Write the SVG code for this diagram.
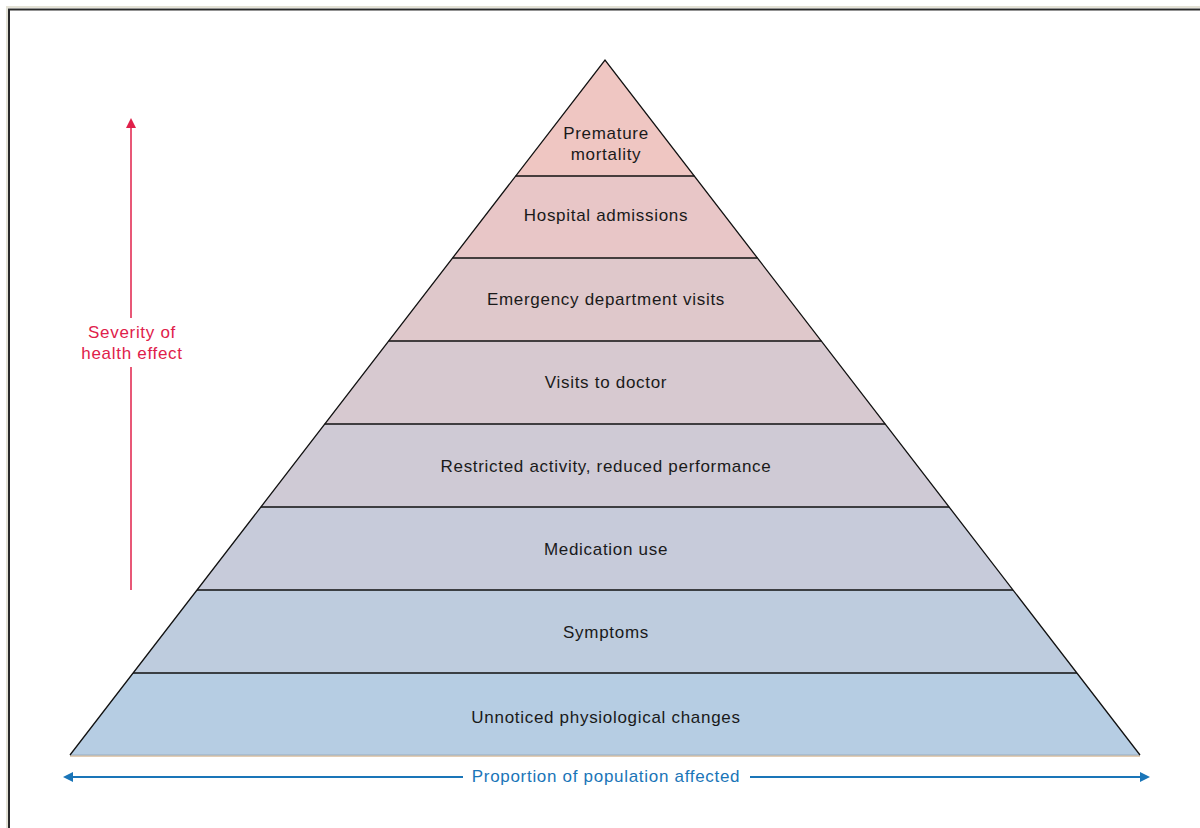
<svg xmlns="http://www.w3.org/2000/svg" width="1200" height="828" viewBox="0 0 1200 828">
<defs>
<style>
.lbl{font-family:"Liberation Sans",Arial,sans-serif;font-size:17px;letter-spacing:0.7px;fill:#1a1a1a;text-anchor:middle}
.div{stroke:#111;stroke-width:1.3;fill:none}
.ax{font-family:"Liberation Sans",Arial,sans-serif;font-size:17px;letter-spacing:0.7px;text-anchor:middle}
</style>
<marker id="ar" viewBox="0 0 10 10" refX="5" refY="5" markerWidth="10" markerHeight="10" orient="auto-start-reverse" markerUnits="userSpaceOnUse">
<path d="M0,0 L10,5 L0,10 Z" fill="#e0204a"/>
</marker>
<marker id="ab" viewBox="0 0 10 10" refX="5" refY="5" markerWidth="13" markerHeight="10" orient="auto-start-reverse" markerUnits="userSpaceOnUse">
<path d="M0,0 L10,5 L0,10 Z" fill="#1a75b8"/>
</marker>
</defs>
<rect width="1200" height="828" fill="#fff"/>
<path d="M7,840 V7 H1210" fill="none" stroke="#e4e2d6" stroke-width="2"/>
<path d="M9,840 V9.5 H1210" fill="none" stroke="#2a2a2a" stroke-width="2"/>

<g id="layer1"><polygon points="605,60 694.3,176 515.7,176" fill="#efc6c2"/><text class="lbl" x="606" y="139">Premature</text><text class="lbl" x="606" y="160">mortality</text></g>
<g id="layer2"><polygon points="515.7,176 694.3,176 757.4,258 452.6,258" fill="#e8c6c7"/><text class="lbl" x="606" y="221">Hospital admissions</text></g>
<g id="layer3"><polygon points="452.6,258 757.4,258 821.3,341 388.7,341" fill="#dfc8cb"/><text class="lbl" x="606" y="305">Emergency department visits</text></g>
<g id="layer4"><polygon points="388.7,341 821.3,341 885.2,424 324.8,424" fill="#d7c9d0"/><text class="lbl" x="606" y="388">Visits to doctor</text></g>
<g id="layer5"><polygon points="324.8,424 885.2,424 949.1,507 260.9,507" fill="#cfcad5"/><text class="lbl" x="606" y="472">Restricted activity, reduced performance</text></g>
<g id="layer6"><polygon points="260.9,507 949.1,507 1013,590 197,590" fill="#c7cbda"/><text class="lbl" x="606" y="555">Medication use</text></g>
<g id="layer7"><polygon points="197,590 1013,590 1076.9,673 133.1,673" fill="#beccde"/><text class="lbl" x="606" y="638">Symptoms</text></g>
<g id="layer8"><polygon points="133.1,673 1076.9,673 1140,755 70,755" fill="#b6cde3"/><text class="lbl" x="606" y="723">Unnoticed physiological changes</text></g>

<g id="connectors">
<line x1="70" y1="756" x2="1140" y2="756" stroke="#d9bc9c" stroke-width="1.5"/>
<line x1="70" y1="755" x2="1140" y2="755" stroke="#8fa3b8" stroke-width="0.8"/>
<path class="div" d="M70,755 L605,60 L1140,755"/>
<path class="div" d="M515.7,176H694.3 M452.6,258H757.4 M388.7,341H821.3 M324.8,424H885.2 M260.9,507H949.1 M197,590H1013 M133.1,673H1076.9"/>
<line x1="131" y1="590" x2="131" y2="367" stroke="#e0204a" stroke-width="1.5"/>
<line x1="131" y1="318" x2="131" y2="123" stroke="#e0204a" stroke-width="1.5" marker-end="url(#ar)"/>
<line x1="463" y1="777" x2="68" y2="777" stroke="#1a75b8" stroke-width="2" marker-end="url(#ab)"/>
<line x1="750" y1="777" x2="1145" y2="777" stroke="#1a75b8" stroke-width="2" marker-end="url(#ab)"/>
</g>
<g id="axis-labels">
<text class="ax" x="132" y="338" fill="#e0204a">Severity of</text>
<text class="ax" x="132" y="359" fill="#e0204a">health effect</text>
<text class="ax" x="606" y="782" fill="#1a75b8">Proportion of population affected</text>
</g>
</svg>
